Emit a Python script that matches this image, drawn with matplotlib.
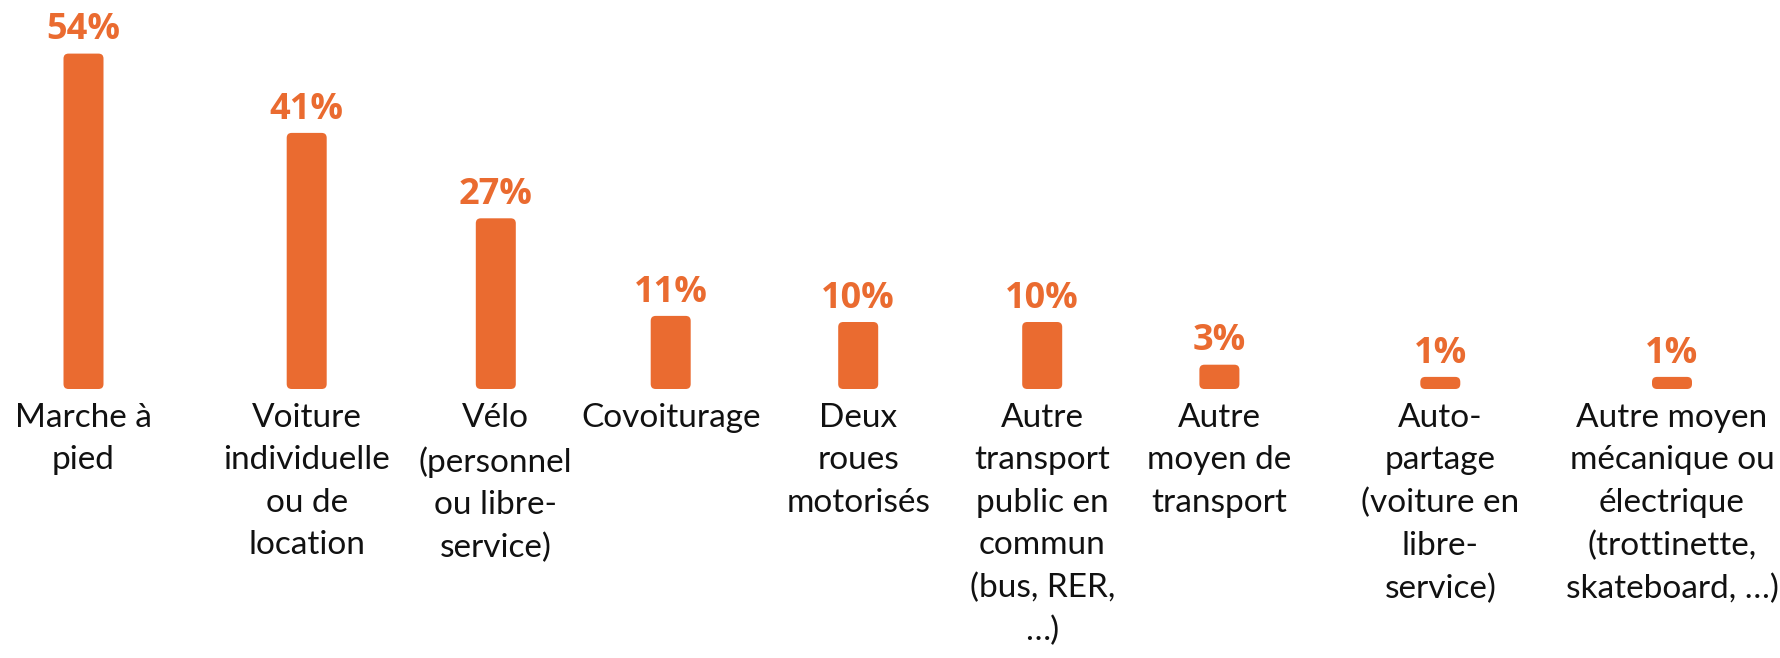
import matplotlib
matplotlib.use("Agg")
import matplotlib.pyplot as plt
from matplotlib.patches import FancyBboxPatch

categories = [
    "Marche à\npied",
    "Voiture\nindividuelle\nou de\nlocation",
    "Vélo\n(personnel\nou libre-\nservice)",
    "Covoiturage",
    "Deux\nroues\nmotorisés",
    "Autre\ntransport\npublic en\ncommun\n(bus, RER,\n…)",
    "Autre\nmoyen de\ntransport",
    "Auto-\npartage\n(voiture en\nlibre-\nservice)",
    "Autre moyen\nmécanique ou\nélectrique\n(trottinette,\nskateboard, …)",
]
values = [54, 41, 27, 11, 10, 10, 3, 1, 1]
value_labels = ["54%", "41%", "27%", "11%", "10%", "10%", "3%", "1%", "1%"]

# layout (slot centres, in hundreds of pixels)
x_pos = [0.835, 3.067, 4.958, 6.707, 8.582, 10.422, 12.194, 14.403, 16.72]

ORANGE = "#EA6B30"
W, H = 1781, 658
DPI = 100
fig = plt.figure(figsize=(W / DPI, H / DPI), dpi=DPI)
ax = fig.add_axes([0, 0, 1, 1])
ax.axis("off")

px_per_pct = 6.1
base_px = 272.0  # baseline height from bottom in pixels
ax.set_xlim(0, W / 100)
ax.set_ylim(-base_px / px_per_pct, (H - base_px) / px_per_pct)

aspect = (1 / px_per_pct) / (1 / 100)
pad = 0.03
bw = 0.34
for x, v in zip(x_pos, values):
    p = FancyBboxPatch((x - bw / 2, 0), bw, v,
                       boxstyle=f"round,pad={pad},rounding_size=0.05",
                       mutation_aspect=aspect,
                       facecolor=ORANGE, edgecolor="none")
    ax.add_patch(p)

for x, v, lbl in zip(x_pos, values, value_labels):
    ax.annotate(lbl, (x, v), xytext=(0, 6), textcoords="offset points",
                ha="center", va="bottom", fontsize=26, fontweight="bold",
                color=ORANGE, family="Open Sans")

for x, c in zip(x_pos, categories):
    ax.annotate(c, (x, 0), xytext=(0, -12), textcoords="offset points",
                ha="center", va="top", fontsize=24, color="#111111",
                family="Lato", linespacing=1.52)

fig.savefig("out.png", dpi=DPI)
